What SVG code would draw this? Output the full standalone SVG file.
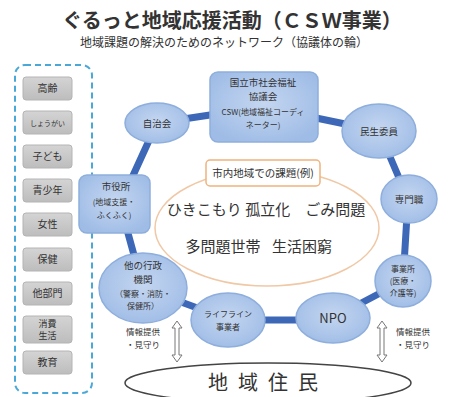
<svg xmlns="http://www.w3.org/2000/svg" width="453" height="397" viewBox="0 0 453 397">
<defs>
<radialGradient id="gb" cx="50%" cy="45%" r="60%">
<stop offset="0" stop-color="#c4d6f0"/>
<stop offset="1" stop-color="#9fbce6"/>
</radialGradient>
<linearGradient id="gg" x1="0" y1="0" x2="0" y2="1">
<stop offset="0" stop-color="#d4d4d4"/>
<stop offset="1" stop-color="#bdbdbd"/>
</linearGradient>
</defs>
<style>
text{font-family:"Noto Sans CJK JP","Noto Sans",sans-serif;fill:#333;text-anchor:middle}
.node{fill:url(#gb);stroke:#8eaedc;stroke-width:1.5}
.cat{fill:url(#gg);stroke:#b4b4b4;stroke-width:1}
.ct{font-size:10px}
.nt{font-size:9.5px}
.st{font-size:8px}
.link{stroke:#3d68b8;stroke-width:7;stroke-linecap:round;fill:none}
.arr{fill:#fff;stroke:#777;stroke-width:1}
.lab{font-size:8.5px}
</style>
<rect width="453" height="397" fill="#fff"/>

<g id="title">
<text x="232" y="28" font-size="20" font-weight="bold">ぐるっと地域応援活動（ＣＳＷ事業）</text>
<text x="224" y="47" font-size="12">地域課題の解決のためのネットワーク（協議体の輪）</text>
</g>

<g id="categories">
<rect x="15" y="65" width="77" height="328" rx="10" fill="none" stroke="#4aa8d8" stroke-width="2" stroke-dasharray="6 4"/>
<g id="cat1"><rect class="cat" x="23" y="77" width="49" height="23" rx="3"/><text class="ct" x="47.5" y="92">高齢</text></g>
<g id="cat2"><rect class="cat" x="23" y="111" width="49" height="23" rx="3"/><text x="47.5" y="126" font-size="7">しょうがい</text></g>
<g id="cat3"><rect class="cat" x="23" y="145" width="49" height="23" rx="3"/><text class="ct" x="47.5" y="160">子ども</text></g>
<g id="cat4"><rect class="cat" x="23" y="179" width="49" height="23" rx="3"/><text class="ct" x="47.5" y="194">青少年</text></g>
<g id="cat5"><rect class="cat" x="23" y="213" width="49" height="23" rx="3"/><text class="ct" x="47.5" y="228">女性</text></g>
<g id="cat6"><rect class="cat" x="23" y="248" width="49" height="23" rx="3"/><text class="ct" x="47.5" y="263">保健</text></g>
<g id="cat7"><rect class="cat" x="23" y="282" width="49" height="23" rx="3"/><text class="ct" x="47.5" y="297">他部門</text></g>
<g id="cat8"><rect class="cat" x="23" y="316" width="49" height="27" rx="3"/><text x="47.5" y="327" font-size="9">消費</text><text x="47.5" y="339" font-size="9">生活</text></g>
<g id="cat9"><rect class="cat" x="23" y="351" width="49" height="23" rx="3"/><text class="ct" x="47.5" y="366">教育</text></g>
</g>

<g id="issues">
<ellipse cx="267" cy="228" rx="112" ry="58" fill="#fff" stroke="#f0c8a6" stroke-width="1.5"/>
<rect x="206" y="160" width="114" height="26" rx="4" fill="#fff" stroke="#f0b27e" stroke-width="1.5"/>
<text x="263" y="177" font-size="10.5">市内地域での課題(例)</text>
<text x="266" y="215" font-size="15">ひきこもり 孤立化　ごみ問題</text>
<text x="223" y="252" font-size="15">多問題世帯</text>
<text x="302" y="252" font-size="15">生活困窮</text>
</g>

<g id="connectors">
<line class="link" x1="157" y1="123" x2="263" y2="107"/>
<line class="link" x1="263" y1="107" x2="379" y2="131"/>
<line class="link" x1="379" y1="131" x2="408" y2="199"/>
<line class="link" x1="408" y1="199" x2="403" y2="281"/>
<line class="link" x1="403" y1="281" x2="333" y2="318"/>
<line class="link" x1="333" y1="320" x2="230" y2="320"/>
<line class="link" x1="230" y1="320" x2="143" y2="288"/>
<line class="link" x1="143" y1="288" x2="120" y2="204"/>
<line class="link" x1="120" y1="204" x2="157" y2="123"/>
</g>

<g id="n-shakyo">
<rect class="node" x="210" y="72" width="108" height="70" rx="8"/>
<text class="nt" x="263" y="86">国立市社会福祉</text>
<text class="nt" x="263" y="100">協議会</text>
<text class="st" x="263" y="115">CSW(地域福祉コーディ</text>
<text class="st" x="263" y="128">ネーター)</text>
</g>
<g id="n-jichikai">
<ellipse class="node" cx="157" cy="123" rx="32" ry="20"/>
<text class="nt" x="157" y="127">自治会</text>
</g>
<g id="n-minsei">
<ellipse class="node" cx="379" cy="131" rx="37" ry="27"/>
<text class="nt" x="379" y="135">民生委員</text>
</g>
<g id="n-senmon">
<ellipse class="node" cx="409" cy="199" rx="28" ry="24"/>
<text class="nt" x="409" y="203">専門職</text>
</g>
<g id="n-jigyosho">
<ellipse class="node" cx="403" cy="281" rx="28" ry="26"/>
<text class="st" x="403" y="272">事業所</text>
<text class="st" x="403" y="284">(医療・</text>
<text class="st" x="403" y="296">介護等)</text>
</g>
<g id="n-npo">
<ellipse class="node" cx="333" cy="318" rx="37" ry="25"/>
<text x="333" y="323" font-size="13">NPO</text>
</g>
<g id="n-lifeline">
<ellipse class="node" cx="228" cy="320" rx="37" ry="27"/>
<text class="st" x="228" y="317">ライフライン</text>
<text class="st" x="228" y="330">事業者</text>
</g>
<g id="n-gyosei">
<ellipse class="node" cx="143" cy="288" rx="44" ry="35"/>
<text class="nt" x="143" y="269">他の行政</text>
<text class="nt" x="143" y="283">機関</text>
<text class="st" x="143" y="297">（警察・消防・</text>
<text class="st" x="143" y="309">保健所）</text>
</g>
<g id="n-shiyakusho">
<rect class="node" x="79" y="175" width="71" height="58" rx="8"/>
<text class="nt" x="116" y="190">市役所</text>
<text class="st" x="114" y="205">(地域支援・</text>
<text class="st" x="114" y="218">ふくふく)</text>
</g>

<g id="residents">
<ellipse cx="268" cy="383" rx="143" ry="20" fill="#fff" stroke="#444" stroke-width="1.5"/>
<text x="268" y="390" font-size="20" letter-spacing="10">地域住民</text>
</g>

<g id="arrows">
<path class="arr" d="M177 321 L182 328 L179 328 L179 355 L182 355 L177 362 L172 355 L175 355 L175 328 L172 328 Z"/>
<path class="arr" d="M382 321 L387 328 L384 328 L384 355 L387 355 L382 362 L377 355 L380 355 L380 328 L377 328 Z"/>
<text class="lab" x="143" y="335">情報提供</text>
<text class="lab" x="143" y="348">・見守り</text>
<text class="lab" x="413" y="335">情報提供</text>
<text class="lab" x="413" y="348">・見守り</text>
</g>
</svg>
